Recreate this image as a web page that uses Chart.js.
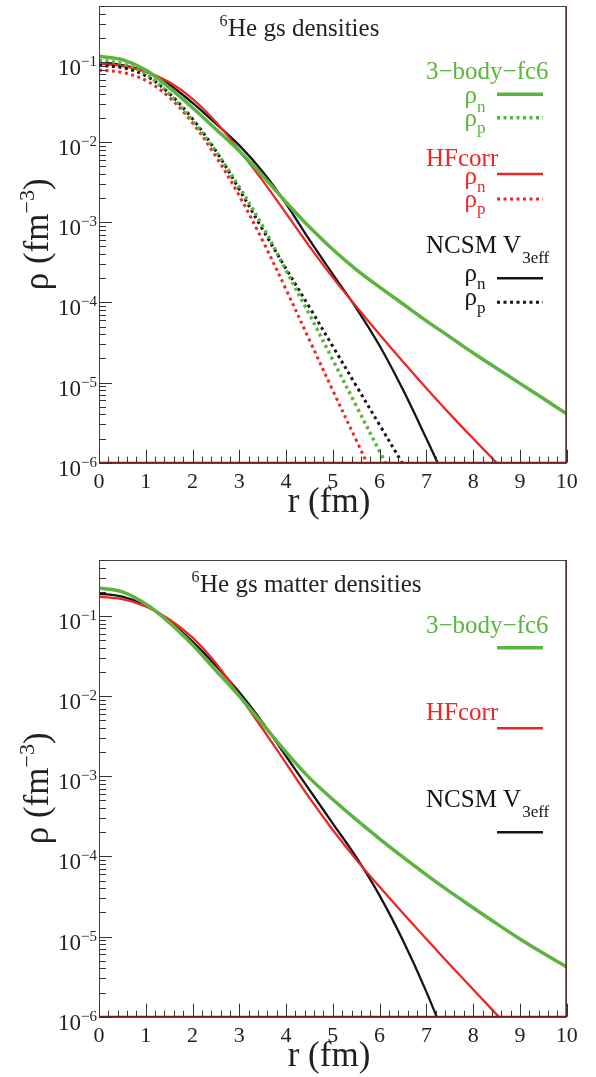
<!DOCTYPE html>
<html>
<head>
<meta charset="utf-8">
<script src="https://cdn.jsdelivr.net/npm/chart.js@4.4.1/dist/chart.umd.min.js"></script>
<style>
  html, body { margin: 0; padding: 0; background: #fff; }
  #wrap { position: relative; width: 596px; height: 1077px; }
  canvas { position: absolute; left: 0; }
</style>
</head>
<body>
<div id="wrap">
  <canvas id="js--top" width="596" height="538" style="top:0"></canvas>
  <canvas id="js--bottom" width="596" height="539" style="top:538px"></canvas>
</div>
<script>
// radius grid (fm)
const r = [0, 0.5, 1, 1.5, 2, 2.5, 3, 3.5, 4, 4.5, 5, 5.5, 6, 6.5, 7, 7.5, 8, 8.5, 9, 9.5, 10];

// top panel: neutron / proton densities (fm^-3)
const fc6Neutron = [1.18e-1, 1.07e-1, 7.94e-2, 4.79e-2, 2.69e-2, 1.45e-2, 7.76e-3, 3.80e-3, 1.78e-3, 8.71e-4, 4.57e-4, 2.57e-4, 1.55e-4, 9.55e-5, 5.89e-5, 3.72e-5, 2.34e-5, 1.51e-5, 9.77e-6, 6.31e-6, 4.07e-6];
const fc6Proton = [1.05e-1, 9.55e-2, 7.08e-2, 3.98e-2, 1.86e-2, 7.59e-3, 2.75e-3, 8.91e-4, 2.51e-4, 7.08e-5, 1.91e-5, 5.13e-6, 1.38e-6, 3.72e-7];
const hfNeutron = [9.55e-2, 8.91e-2, 7.59e-2, 5.62e-2, 3.47e-2, 1.78e-2, 7.94e-3, 3.31e-3, 1.29e-3, 5.01e-4, 2.04e-4, 8.91e-5, 3.98e-5, 1.82e-5, 8.51e-6, 4.07e-6, 2.00e-6, 1.00e-6, 5.01e-7];
const hfProton = [7.94e-2, 7.41e-2, 5.89e-2, 3.63e-2, 1.74e-2, 6.61e-3, 2.14e-3, 5.89e-4, 1.45e-4, 3.39e-5, 7.94e-6, 1.91e-6, 4.57e-7];
const ncsmNeutron = [9.77e-2, 9.12e-2, 7.59e-2, 5.25e-2, 3.09e-2, 1.70e-2, 9.12e-3, 4.27e-3, 1.70e-3, 6.03e-4, 2.24e-4, 8.51e-5, 2.88e-5, 8.13e-6, 2.00e-6, 4.68e-7];
const ncsmProton = [9.12e-2, 8.51e-2, 6.76e-2, 4.07e-2, 1.95e-2, 7.76e-3, 2.57e-3, 8.13e-4, 2.63e-4, 8.71e-5, 2.82e-5, 9.12e-6, 2.95e-6, 9.55e-7, 3.09e-7];

// bottom panel: matter densities (fm^-3)
const fc6Matter = [2.24e-1, 2.00e-1, 1.41e-1, 8.32e-2, 4.37e-2, 2.09e-2, 1.00e-2, 4.47e-3, 2.00e-3, 9.55e-4, 5.13e-4, 2.88e-4, 1.66e-4, 9.77e-5, 5.89e-5, 3.63e-5, 2.29e-5, 1.45e-5, 9.33e-6, 6.17e-6, 4.17e-6];
const hfMatter = [1.74e-1, 1.62e-1, 1.32e-1, 9.12e-2, 5.37e-2, 2.57e-2, 1.02e-2, 3.89e-3, 1.45e-3, 5.37e-4, 2.14e-4, 9.12e-5, 4.17e-5, 1.95e-5, 9.33e-6, 4.47e-6, 2.19e-6, 1.07e-6, 5.25e-7];
const ncsmMatter = [1.91e-1, 1.74e-1, 1.35e-1, 8.71e-2, 4.79e-2, 2.40e-2, 1.12e-2, 4.68e-3, 1.78e-3, 6.76e-4, 2.57e-4, 9.77e-5, 3.24e-5, 8.91e-6, 2.04e-6, 3.89e-7];

// tick labels
const xTicks = [0, 1, 2, 3, 4, 5, 6, 7, 8, 9, 10];
const yDecades = [-6, -5, -4, -3, -2, -1];

const GREEN = '#5ab43e';
const RED = '#ee2626';
const BLACK = '#151515';
const INK = '#231f20';
const SERIF = '"Liberation Serif", "Times New Roman", serif';

function pts(values) {
    return values.map((v, i) => ({ x: r[i], y: v }));
}

function series(label, values, color, width, dotted) {
    return {
        label: label,
        data: pts(values),
        borderColor: color,
        borderWidth: width,
        borderDash: dotted ? [3, 3.5] : [],
        borderCapStyle: 'butt',
        pointRadius: 0,
        tension: 0.35,
        fill: false,
        clip: 0
    };
}

function font(size) {
    return size + 'px ' + SERIF;
}

function text(ctx, str, x, y, size, color, align) {
    ctx.font = font(size);
    ctx.fillStyle = color;
    ctx.textAlign = align || 'left';
    ctx.textBaseline = 'alphabetic';
    ctx.fillText(str, x, y);
    return ctx.measureText(str).width;
}

function line(ctx, x1, y1, x2, y2) {
    ctx.beginPath();
    ctx.moveTo(x1, y1);
    ctx.lineTo(x2, y2);
    ctx.stroke();
}

function sample(ctx, y, color, width, dotted) {
    ctx.save();
    ctx.strokeStyle = color;
    ctx.lineWidth = width;
    ctx.setLineDash(dotted ? [3, 3.5] : []);
    line(ctx, 497, y, 543, y);
    ctx.restore();
}

function rhoRow(ctx, sub, y, rhoBase, subBase, color, width, dotted) {
    ctx.font = font(25);
    const w = ctx.measureText('ρ').width;
    text(ctx, 'ρ', 477 - w, rhoBase, 25, color);
    text(ctx, sub, 477, subBase, 17, color);
    sample(ctx, y, color, width, dotted);
}

function drawAxes(chart, opts) {
    const ctx = chart.ctx;
    const a = chart.chartArea;
    const x = chart.scales.x;
    const y = chart.scales.y;
    ctx.save();

    // frame
    ctx.strokeStyle = '#444';
    ctx.lineWidth = 1;
    ctx.strokeRect(a.left + 0.5, a.top + 0.5, a.right - a.left - 1, a.bottom - a.top);
    ctx.strokeStyle = '#5a2626';
    ctx.lineWidth = 1.5;
    line(ctx, a.right - 0.5, a.top, a.right - 0.5, a.bottom);
    ctx.strokeStyle = '#7a1c1c';
    ctx.lineWidth = 2;
    line(ctx, a.left, a.bottom, a.right, a.bottom);

    // inward ticks
    ctx.strokeStyle = '#333';
    ctx.lineWidth = 1;
    yDecades.forEach(n => {
        for (let k = 1; k <= 9; k++) {
            const v = k * Math.pow(10, n);
            if (v > y.max * 1.0001) break;
            const py = Math.round(y.getPixelForValue(v)) + 0.5;
            line(ctx, a.left, py, a.left + (k === 1 ? 13 : 7), py);
        }
    });
    for (let i = 0; i <= 50; i++) {
        const px = Math.round(x.getPixelForValue(i * 0.2)) + 0.5;
        line(ctx, px, a.bottom, px, a.bottom - (i % 5 === 0 ? 13 : 6));
    }

    // tick labels
    yDecades.forEach(n => {
        const py = y.getPixelForValue(Math.pow(10, n));
        ctx.font = font(15);
        const ew = ctx.measureText('−' + Math.abs(n)).width;
        text(ctx, '−' + Math.abs(n), 97 - ew, py + 4, 15, INK);
        text(ctx, '10', 97 - ew, py + 13, 23, INK, 'right');
    });
    xTicks.forEach(v => {
        text(ctx, String(v), x.getPixelForValue(v), a.bottom + 25, 22, INK, 'center');
    });

    // axis titles
    text(ctx, 'r (fm)', 329, a.bottom + 49, 35, INK, 'center');
    ctx.save();
    ctx.translate(48, (a.top + a.bottom) / 2);
    ctx.rotate(-Math.PI / 2);
    ctx.font = font(35);
    const w1 = ctx.measureText('ρ (fm').width;
    ctx.font = font(22);
    const w2 = ctx.measureText('−3').width;
    ctx.font = font(35);
    const w3 = ctx.measureText(')').width;
    let cx = -(w1 + w2 + w3) / 2;
    text(ctx, 'ρ (fm', cx, 0, 35, INK);
    cx += w1;
    text(ctx, '−3', cx, -14, 22, INK);
    cx += w2;
    text(ctx, ')', cx, 0, 35, INK);
    ctx.restore();

    // panel title
    text(ctx, '6', opts.titleX - 0.5, opts.titleY - 10, 16, INK, 'right');
    text(ctx, opts.title, opts.titleX, opts.titleY, 25, INK);

    opts.legend(ctx);
    ctx.restore();
}

function ncsmHeader(ctx, y) {
    const w = text(ctx, 'NCSM V', 426, y, 25, BLACK);
    text(ctx, '3eff', 426 + w + 1, y + 10, 17, BLACK);
}

function topLegend(ctx) {
    text(ctx, '3−body−fc6', 426, 79, 25, GREEN);
    rhoRow(ctx, 'n', 94.3, 103, 112, GREEN, 3.5, false);
    rhoRow(ctx, 'p', 117.7, 126, 133, GREEN, 3.5, true);
    text(ctx, 'HFcorr', 426, 166, 25, RED);
    rhoRow(ctx, 'n', 174, 184, 192, RED, 2.5, false);
    rhoRow(ctx, 'p', 199, 207, 214, RED, 3, true);
    ncsmHeader(ctx, 253);
    rhoRow(ctx, 'n', 278.3, 281, 289, BLACK, 2.5, false);
    rhoRow(ctx, 'p', 302.3, 305, 313, BLACK, 3, true);
}

function bottomLegend(ctx) {
    text(ctx, '3−body−fc6', 426, 95.3, 25, GREEN);
    sample(ctx, 109.7, GREEN, 3.5, false);
    text(ctx, 'HFcorr', 426, 182, 25, RED);
    sample(ctx, 190.3, RED, 2.5, false);
    ncsmHeader(ctx, 268.7);
    sample(ctx, 294.3, BLACK, 2.5, false);
}

function makePanel(id, datasets, padding, opts) {
    return new Chart(document.getElementById(id), {
        type: 'line',
        data: { datasets: datasets },
        options: {
            responsive: false,
            animation: false,
            layout: { padding: padding },
            scales: {
                x: { type: 'linear', min: 0, max: 10, display: false },
                y: { type: 'logarithmic', min: 1e-6, max: 0.5, display: false }
            },
            plugins: { legend: { display: false }, tooltip: { enabled: false } }
        },
        plugins: [{
            id: 'rootAxes',
            afterDatasetsDraw: chart => drawAxes(chart, opts)
        }]
    });
}

makePanel('js--top', [
    series('3-body-fc6 rho_p', fc6Proton, GREEN, 3.5, true),
    series('HFcorr rho_p', hfProton, RED, 3, true),
    series('NCSM rho_p', ncsmProton, BLACK, 3, true),
    series('3-body-fc6 rho_n', fc6Neutron, GREEN, 3.5, false),
    series('HFcorr rho_n', hfNeutron, RED, 2.3, false),
    series('NCSM rho_n', ncsmNeutron, BLACK, 2.3, false)
], { left: 99, top: 6, right: 29.3, bottom: 75.3 },
   { title: 'He gs densities', titleX: 228, titleY: 36, legend: topLegend });

makePanel('js--bottom', [
    series('3-body-fc6', fc6Matter, GREEN, 3.5, false),
    series('HFcorr', hfMatter, RED, 2.3, false),
    series('NCSM V3eff', ncsmMatter, BLACK, 2.3, false)
], { left: 99, top: 22, right: 29.3, bottom: 60.3 },
   { title: 'He gs matter densities', titleX: 200, titleY: 54, legend: bottomLegend });
</script>
</body>
</html>
